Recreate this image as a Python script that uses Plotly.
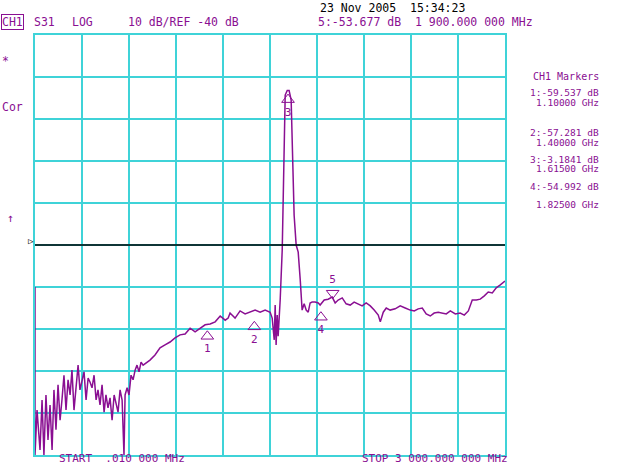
import plotly.graph_objects as go

freq_mhz = [0.01,0.01,13,32,45,57,70,83,96,109,121,134,147,160,172,185,198,211,224,236,249,262,275,287,300,313,326,339,351,364,377,390,402,415,428,441,453,466,479,492,505,517,530,543,556,568,575,588,600,613,626,639,651,664,677,690,734,766,798,830,862,894,926,958,990,1022,1054,1086,1118,1150,1182,1214,1233,1245,1277,1309,1341,1373,1405,1437,1469,1501,1514,1527,1533,1539,1546,1552,1558,1565,1578,1584,1590,1597,1610,1622,1635,1641,1648,1654,1667,1680,1693,1705,1718,1731,1744,1756,1769,1788,1808,1820,1846,1871,1897,1916,1935,1961,1986,2012,2037,2063,2088,2114,2140,2165,2191,2204,2223,2242,2267,2299,2331,2363,2395,2421,2446,2472,2497,2523,2548,2574,2599,2625,2651,2683,2714,2740,2766,2791,2817,2842,2868,2893,2919,2944,2970,3000]
s31_db = [-50.0,-90,-79.3,-88.8,-76.9,-90,-75.7,-86.4,-78.1,-88.8,-74.5,-84.0,-73.3,-81.7,-76.9,-71.0,-79.3,-72.1,-75.7,-69.8,-79.3,-73.3,-68.6,-74.5,-72.1,-70.2,-76.9,-71.7,-72.6,-74.0,-71.0,-76.9,-74.5,-78.1,-73.3,-79.8,-75.7,-78.8,-76.4,-81.7,-75.7,-78.1,-79.8,-74.5,-76.9,-90,-75.7,-74.0,-75.7,-71.0,-72.1,-69.8,-68.6,-70.2,-67.9,-68.6,-67.4,-66.2,-64.5,-63.8,-63.1,-62.1,-61.4,-61.2,-59.8,-60.7,-59.8,-59.0,-58.8,-58.3,-56.9,-57.9,-57.4,-56.2,-57.4,-55.7,-56.4,-56.0,-55.5,-56.0,-55.5,-56.0,-57.4,-62.6,-54.3,-63.8,-56.7,-61.7,-57.9,-53.1,-41.2,-26.9,-12.6,-4.3,-3.2,-3.2,-5.5,-15.0,-24.5,-32.9,-40.0,-41.7,-48.3,-55.5,-54.0,-55.5,-56.0,-53.8,-53.6,-53.6,-53.8,-54.3,-53.1,-52.9,-52.4,-53.8,-53.1,-52.6,-54.0,-54.3,-53.6,-54.0,-54.5,-53.8,-54.5,-55.5,-56.7,-58.3,-56.0,-55.0,-55.5,-55.2,-54.5,-55.0,-55.5,-55.7,-55.2,-55.0,-56.4,-56.9,-56.2,-56.0,-56.2,-56.4,-55.7,-56.4,-56.2,-56.7,-55.7,-53.1,-53.1,-52.9,-52.1,-51.2,-51.4,-50.2,-49.5,-48.6]

marker_ids = ["1","2","3","4"]
marker_freq = [1100,1400,1615,1825]
marker_db = [-59.537,-57.281,-3.184,-54.992]
m5_freq, m5_db = 1900, -53.677
ref_db = -40

purple = "#8a0f92"
cyan = "#3fd3d8"
mono = "DejaVu Sans Mono"

fig = go.Figure()
fig.add_trace(go.Scatter(x=freq_mhz, y=s31_db, mode="lines", line=dict(color=purple, width=1.5), hoverinfo="skip"))
fig.add_trace(go.Scatter(x=[0, 3000], y=[ref_db, ref_db], mode="lines", line=dict(color="black", width=1.3)))
fig.add_trace(go.Scatter(x=marker_freq, y=[d-2.2 for d in marker_db], mode="markers+text",
    marker=dict(symbol="triangle-up-open", size=11, color=purple, line=dict(width=1)),
    text=marker_ids, textposition="bottom center", textfont=dict(family=mono, size=11, color=purple)))
fig.add_trace(go.Scatter(x=[m5_freq], y=[m5_db+2.2], mode="markers+text",
    marker=dict(symbol="triangle-down-open", size=11, color=purple, line=dict(width=1)),
    text=["5"], textposition="top center", textfont=dict(family=mono, size=11, color=purple)))

fig.update_xaxes(range=[0.01, 3000], dtick=300, tick0=0.01, showgrid=True, gridcolor=cyan, gridwidth=1.5,
                 showticklabels=False, zeroline=False, showline=True, linecolor=cyan, linewidth=1.5, mirror=True, ticks="")
fig.update_yaxes(range=[-90, 10], dtick=10, showgrid=True, gridcolor=cyan, gridwidth=1.5,
                 showticklabels=False, zeroline=False, showline=True, linecolor=cyan, linewidth=1.5, mirror=True, ticks="")

def px(x, y, text, color=purple, anchor="left", box=False, size=11.5):
    d = dict(x=(x-35)/470, y=(455-y)/420, xref="paper", yref="paper", text=text, showarrow=False,
             xanchor=anchor, yanchor="middle", font=dict(family=mono, size=size, color=color))
    if box:
        d.update(bordercolor=purple, borderwidth=1, borderpad=0)
    fig.add_annotation(**d)

px(318, 8, "23 Nov 2005  15:34:23", color="black")
px(1, 22, "CH1", box=True)
px(32, 22, "S31")
px(70, 22, "LOG")
px(126, 22, "10 dB/REF -40 dB")
px(316, 22, "5:-53.677 dB  1 900.000 000 MHz")
px(0, 61, "*")
px(0, 107, "Cor")
px(5, 218, "↑")
px(36, 241, "▷", color="black", anchor="right", size=9)
px(531, 76, "CH1 Markers", size=10)
right_lines = [(93,"1:-59.537 dB"),(102,"1.10000 GHz"),(133,"2:-57.281 dB"),(142,"1.40000 GHz"),
               (159,"3:-3.1841 dB"),(168,"1.61500 GHz"),(186,"4:-54.992 dB"),(204,"1.82500 GHz")]
for y, t in right_lines:
    px(601, y, t, anchor="right", size=9.5)
px(57, 458, "START  .010 000 MHz", size=11)
px(360, 458, "STOP 3 000.000 000 MHz", size=11)

fig.update_layout(width=640, height=465, margin=dict(l=35, r=135, t=35, b=10),
                  paper_bgcolor="white", plot_bgcolor="white", showlegend=False)
fig.write_html("out.html", config={"displayModeBar": False},
               post_script="document.body.style.margin='0';")
